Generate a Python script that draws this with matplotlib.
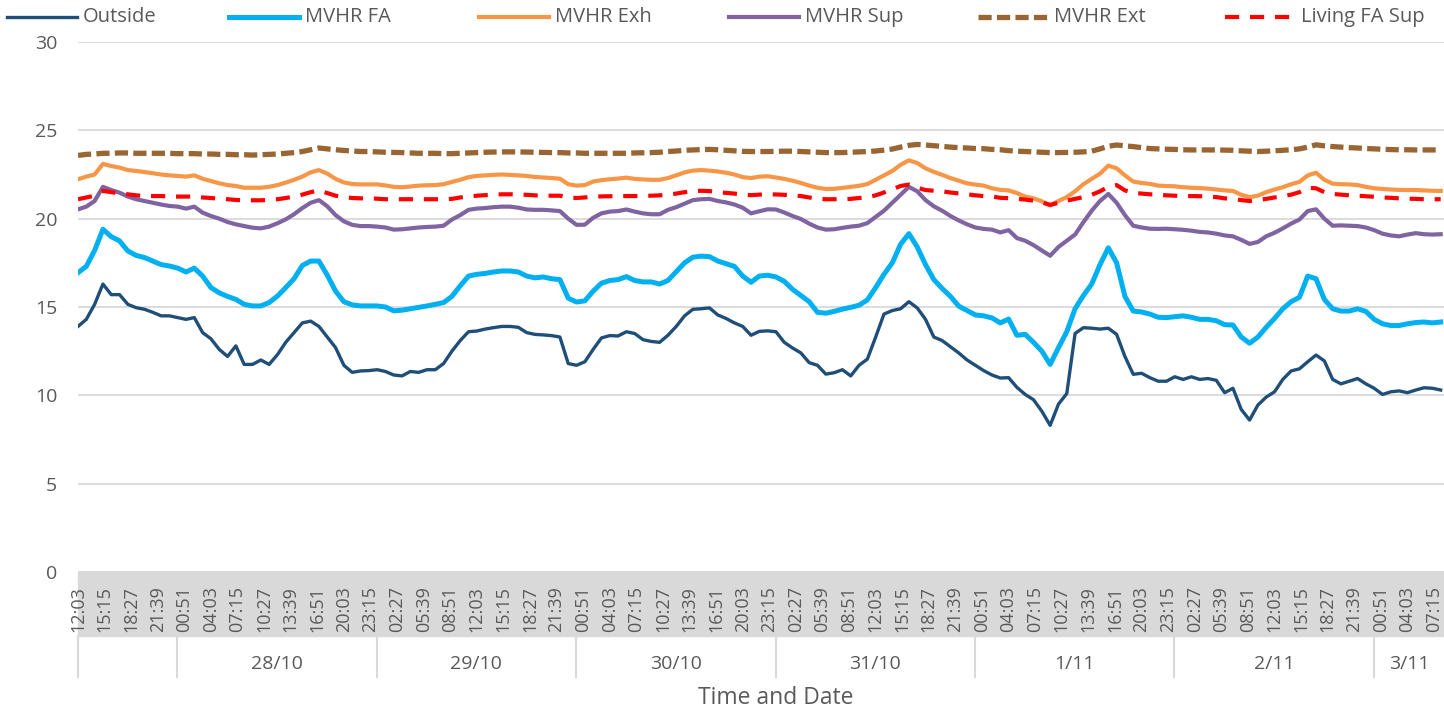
import numpy as np
import matplotlib.pyplot as plt
from matplotlib.lines import Line2D
from matplotlib.patches import Rectangle
from datetime import datetime, timedelta

plt.rcParams['font.family'] = ['Open Sans', 'DejaVu Sans']

# hourly readings from 27/10 12:03
start = datetime(2019, 10, 27, 12, 3)

outside = [13.9, 14.3, 15.15, 16.3, 15.7, 15.7, 15.15, 14.96, 14.87, 14.7, 14.5, 14.5, 14.4, 14.3, 14.4,
           13.55, 13.2, 12.6, 12.2, 12.8, 11.75, 11.75, 12.0, 11.75, 12.3, 13.0, 13.55, 14.1, 14.2,
           13.9, 13.3, 12.7, 11.7, 11.3, 11.38, 11.4, 11.45, 11.35, 11.15, 11.1, 11.35, 11.3, 11.45,
           11.45, 11.8, 12.5, 13.1, 13.6, 13.64, 13.75, 13.83, 13.9, 13.9, 13.85, 13.55, 13.45,
           13.42, 13.38, 13.3, 11.8, 11.7, 11.9, 12.6, 13.25, 13.38, 13.36, 13.6, 13.5, 13.15, 13.05,
           13.0, 13.4, 13.9, 14.5, 14.87, 14.9, 14.95, 14.55, 14.35, 14.1, 13.9, 13.4, 13.62, 13.65,
           13.6, 13.0, 12.68, 12.4, 11.85, 11.7, 11.2, 11.28, 11.45, 11.1, 11.7, 12.05, 13.3, 14.6,
           14.8, 14.9, 15.3, 14.95, 14.3, 13.3, 13.1, 12.75, 12.4, 12.0, 11.7, 11.4, 11.15, 10.98,
           11.0, 10.45, 10.05, 9.75, 9.1, 8.3, 9.5, 10.1, 13.5, 13.83, 13.8, 13.75, 13.8, 13.45,
           12.2, 11.19, 11.25, 11.0, 10.8, 10.8, 11.05, 10.9, 11.05, 10.9, 10.95, 10.85, 10.15, 10.4,
           9.2, 8.6, 9.45, 9.9, 10.2, 10.9, 11.38, 11.5, 11.9, 12.28, 11.95, 10.9, 10.65, 10.8,
           10.95, 10.65, 10.4, 10.05, 10.2, 10.25, 10.15, 10.3, 10.43, 10.4, 10.3]

mvhr_fa = [16.94, 17.3, 18.2, 19.4, 18.98, 18.74, 18.17, 17.92, 17.8, 17.6, 17.4, 17.32, 17.2, 16.98, 17.2,
           16.75, 16.1, 15.8, 15.6, 15.43, 15.15, 15.06, 15.06, 15.25, 15.62, 16.1, 16.6, 17.35, 17.6,
           17.6, 16.8, 15.9, 15.3, 15.12, 15.06, 15.06, 15.06, 15.0, 14.78, 14.82, 14.9, 14.98, 15.06,
           15.15, 15.25, 15.6, 16.2, 16.75, 16.85, 16.9, 16.98, 17.04, 17.04, 16.98, 16.75, 16.65,
           16.7, 16.6, 16.55, 15.5, 15.28, 15.35, 15.9, 16.35, 16.5, 16.55, 16.72, 16.5, 16.42, 16.42,
           16.3, 16.5, 17.0, 17.5, 17.82, 17.88, 17.85, 17.6, 17.45, 17.3, 16.75, 16.4, 16.75, 16.8,
           16.7, 16.45, 16.0, 15.65, 15.3, 14.7, 14.65, 14.75, 14.88, 14.98, 15.1, 15.4, 16.1, 16.85,
           17.5, 18.55, 19.15, 18.4, 17.4, 16.55, 16.05, 15.6, 15.05, 14.8, 14.55, 14.5, 14.38, 14.1,
           14.32, 13.4, 13.45, 13.0, 12.5, 11.75, 12.7, 13.6, 14.9, 15.65, 16.3, 17.4, 18.35, 17.5,
           15.6, 14.77, 14.72, 14.6, 14.42, 14.4, 14.45, 14.5, 14.42, 14.3, 14.3, 14.22, 14.0, 13.98,
           13.3, 12.95, 13.3, 13.85, 14.35, 14.9, 15.3, 15.55, 16.75, 16.6, 15.43, 14.9, 14.77, 14.77,
           14.9, 14.75, 14.3, 14.05, 13.95, 13.95, 14.05, 14.12, 14.15, 14.1, 14.15]

mvhr_exh = [22.23, 22.38, 22.5, 23.1, 22.98, 22.89, 22.75, 22.7, 22.64, 22.57, 22.5, 22.45, 22.42, 22.38, 22.45,
            22.26, 22.13, 22.0, 21.9, 21.85, 21.75, 21.75, 21.75, 21.8, 21.9, 22.04, 22.2, 22.38, 22.62,
            22.75, 22.55, 22.25, 22.05, 21.96, 21.94, 21.94, 21.94, 21.88, 21.8, 21.78, 21.82, 21.87, 21.89,
            21.9, 21.95, 22.08, 22.2, 22.35, 22.42, 22.45, 22.48, 22.5, 22.48, 22.45, 22.42, 22.36,
            22.33, 22.3, 22.26, 21.95, 21.87, 21.9, 22.1, 22.18, 22.23, 22.27, 22.32, 22.25, 22.22, 22.2,
            22.2, 22.3, 22.45, 22.62, 22.72, 22.75, 22.72, 22.67, 22.6, 22.5, 22.35, 22.3, 22.38, 22.4,
            22.33, 22.25, 22.15, 22.02, 21.87, 21.75, 21.68, 21.69, 21.74, 21.8, 21.86, 21.96, 22.2, 22.45,
            22.7, 23.05, 23.3, 23.15, 22.85, 22.65, 22.48, 22.3, 22.15, 22.0, 21.93, 21.87, 21.72, 21.63,
            21.6, 21.45, 21.25, 21.15, 20.98, 20.75, 21.0, 21.22, 21.55, 21.95, 22.25, 22.55, 23.0, 22.85,
            22.45, 22.1, 22.02, 21.97, 21.87, 21.85, 21.83, 21.78, 21.75, 21.73, 21.7, 21.65, 21.6, 21.57,
            21.35, 21.22, 21.3, 21.5, 21.65, 21.78, 21.95, 22.08, 22.45, 22.6, 22.2, 21.98, 21.95, 21.94,
            21.9, 21.8, 21.72, 21.68, 21.65, 21.63, 21.62, 21.62, 21.6, 21.58, 21.57]

mvhr_sup = [20.53, 20.68, 21.0, 21.8, 21.62, 21.47, 21.25, 21.1, 21.0, 20.9, 20.8, 20.72, 20.68, 20.57, 20.68,
            20.34, 20.15, 20.0, 19.81, 19.68, 19.58, 19.49, 19.45, 19.55, 19.74, 19.96, 20.25, 20.6, 20.9,
            21.05, 20.7, 20.2, 19.85, 19.65, 19.58, 19.58, 19.55, 19.5, 19.38, 19.4, 19.45, 19.5, 19.53,
            19.55, 19.6, 19.95, 20.2, 20.5, 20.57, 20.6, 20.65, 20.68, 20.68, 20.62, 20.52, 20.5,
            20.5, 20.47, 20.43, 20.0, 19.65, 19.66, 20.05, 20.3, 20.4, 20.43, 20.52, 20.4, 20.3, 20.25,
            20.25, 20.5, 20.65, 20.85, 21.05, 21.1, 21.12, 21.0, 20.92, 20.8, 20.62, 20.3, 20.42, 20.53,
            20.52, 20.35, 20.15, 19.98, 19.72, 19.5, 19.38, 19.4, 19.48, 19.55, 19.6, 19.75, 20.1, 20.45,
            20.9, 21.35, 21.8, 21.55, 21.05, 20.7, 20.45, 20.15, 19.9, 19.68, 19.5, 19.42, 19.38, 19.22,
            19.35, 18.9, 18.75, 18.5, 18.2, 17.9, 18.4, 18.75, 19.1, 19.8, 20.45, 21.0, 21.4, 20.9,
            20.2, 19.6, 19.5, 19.43, 19.42, 19.43, 19.4, 19.37, 19.32, 19.25, 19.22, 19.15, 19.05, 19.0,
            18.8, 18.57, 18.68, 19.0, 19.2, 19.45, 19.72, 19.95, 20.43, 20.53, 20.0, 19.6, 19.62, 19.6,
            19.58, 19.5, 19.35, 19.15, 19.05, 19.0, 19.1, 19.18, 19.12, 19.1, 19.12]

mvhr_ext = [23.58, 23.64, 23.66, 23.7, 23.7, 23.72, 23.72, 23.7, 23.7, 23.7, 23.7, 23.7, 23.68, 23.68, 23.68,
            23.66, 23.66, 23.64, 23.64, 23.62, 23.62, 23.6, 23.62, 23.64, 23.66, 23.7, 23.74, 23.8, 23.9,
            24.0, 23.95, 23.9, 23.86, 23.83, 23.8, 23.8, 23.78, 23.76, 23.75, 23.74, 23.72, 23.7, 23.7,
            23.7, 23.68, 23.68, 23.7, 23.72, 23.74, 23.76, 23.77, 23.78, 23.78, 23.78, 23.77, 23.76,
            23.75, 23.74, 23.74, 23.72, 23.72, 23.7, 23.7, 23.7, 23.7, 23.7, 23.7, 23.72, 23.73, 23.74,
            23.76, 23.8, 23.83, 23.87, 23.89, 23.91, 23.92, 23.9, 23.87, 23.84, 23.81, 23.8, 23.8, 23.8,
            23.81, 23.82, 23.82, 23.8, 23.78, 23.76, 23.74, 23.74, 23.74, 23.76, 23.78, 23.8, 23.83, 23.88,
            23.94, 24.05, 24.15, 24.2, 24.17, 24.13, 24.09, 24.05, 24.02, 24.0, 23.97, 23.96, 23.92, 23.9,
            23.85, 23.82, 23.8, 23.78, 23.76, 23.74, 23.74, 23.75, 23.76, 23.78, 23.82, 23.95, 24.1, 24.17,
            24.12, 24.08, 24.02, 23.97, 23.95, 23.93, 23.92, 23.9, 23.89, 23.89, 23.89, 23.89, 23.88, 23.87,
            23.84, 23.82, 23.8, 23.82, 23.84, 23.87, 23.9, 23.95, 24.05, 24.18, 24.12, 24.08, 24.05, 24.02,
            24.0, 23.97, 23.95, 23.93, 23.91, 23.9, 23.9, 23.89, 23.89, 23.89, 23.89]

living_fa_sup = [21.1, 21.2, 21.3, 21.57, 21.5, 21.43, 21.38, 21.32, 21.28, 21.28, 21.28, 21.26, 21.25, 21.25, 21.25,
                 21.2, 21.17, 21.13, 21.1, 21.06, 21.04, 21.04, 21.04, 21.06, 21.1, 21.17, 21.25, 21.36, 21.5,
                 21.6, 21.45, 21.3, 21.22, 21.17, 21.15, 21.15, 21.13, 21.1, 21.1, 21.1, 21.1, 21.1, 21.1,
                 21.1, 21.1, 21.12, 21.2, 21.25, 21.3, 21.33, 21.36, 21.38, 21.38, 21.37, 21.35, 21.32,
                 21.3, 21.3, 21.3, 21.2, 21.17, 21.2, 21.25, 21.26, 21.27, 21.28, 21.28, 21.28, 21.3, 21.3,
                 21.32, 21.36, 21.42, 21.5, 21.55, 21.58, 21.56, 21.5, 21.46, 21.42, 21.36, 21.33, 21.36, 21.38,
                 21.37, 21.35, 21.32, 21.28, 21.2, 21.14, 21.1, 21.1, 21.1, 21.12, 21.17, 21.22, 21.32, 21.48,
                 21.66, 21.85, 21.93, 21.75, 21.62, 21.58, 21.55, 21.48, 21.43, 21.38, 21.32, 21.28, 21.25, 21.18,
                 21.16, 21.12, 21.08, 21.02, 20.92, 20.78, 20.9, 21.02, 21.12, 21.22, 21.35, 21.55, 21.8, 21.9,
                 21.6, 21.46, 21.42, 21.38, 21.36, 21.32, 21.3, 21.28, 21.28, 21.27, 21.25, 21.22, 21.15, 21.12,
                 21.05, 21.0, 21.05, 21.12, 21.2, 21.28, 21.36, 21.5, 21.75, 21.72, 21.5, 21.4, 21.36, 21.32,
                 21.3, 21.27, 21.24, 21.2, 21.18, 21.15, 21.13, 21.12, 21.1, 21.1, 21.1]

series_names = ["Outside", "MVHR FA", "MVHR Exh", "MVHR Sup", "MVHR Ext", "Living FA Sup"]
colors = ["#1f4e79", "#00b0f0", "#f79646", "#8064a2", "#996633", "#ff0000"]
widths = [2.4, 3.6, 3.0, 3.0, 3.8, 3.0]
dashes = [None, None, None, None, (2.5, 1.0), (3.4, 2.6)]

hours = np.arange(len(outside))
end_hours = 164.4
grey = "#d9d9d9"
txt = "#595959"

fig = plt.figure(figsize=(14.44, 7.14), dpi=100)
ax = fig.add_axes([78 / 1444, 1 - 572 / 714, 1366 / 1444, 530 / 714])

data = [outside, mvhr_fa, mvhr_exh, mvhr_sup, mvhr_ext, living_fa_sup]
for vals, name, c, w, d in zip(data, series_names, colors, widths, dashes):
    line, = ax.plot(hours, vals, color=c, lw=w, label=name, solid_joinstyle="round")
    if d is not None:
        line.set_dashes(d)

ax.set_xlim(0, end_hours)
ax.set_ylim(0, 30)
ax.set_yticks(range(0, 31, 5))
ax.grid(axis="y", color=grey, lw=1.3)
ax.set_axisbelow(True)
for s in ax.spines.values():
    s.set_visible(False)
ax.tick_params(axis="y", length=0, pad=15, labelsize=14, labelcolor=txt)

# time labels every 192 minutes
tick_h = np.arange(0, 164, 3.2)
tick_lab = [(start + timedelta(hours=float(h))).strftime("%H:%M") for h in tick_h]
ax.set_xticks(tick_h)
ax.set_xticklabels(tick_lab, rotation=90)
ax.tick_params(axis="x", length=0, pad=10, labelsize=13, labelcolor=txt)

band = 64 / 530
ax.add_patch(Rectangle((0, -band), 1, band, transform=ax.transAxes, color=grey,
                       clip_on=False, zorder=0))

# date row
trans = ax.get_xaxis_transform()
midnights = [11 + 57 / 60 + 24 * i for i in range(7)]
sep_lo = -(677 - 572) / 530
ax.plot([0, 0], [-band, sep_lo], transform=trans, color=grey, lw=1.5, clip_on=False)
for m in midnights:
    ax.plot([m, m], [-band, sep_lo], transform=trans, color=grey, lw=1.5, clip_on=False)
edges = midnights + [end_hours]
for i in range(len(midnights)):
    day = start + timedelta(hours=midnights[i] + 1)
    ax.text((edges[i] + edges[i + 1]) / 2, -(664 - 572) / 530, f"{day.day}/{day.month}",
            transform=trans, ha="center", va="center", fontsize=14, color=txt)

fig.text(776 / 1444, 1 - 698 / 714, "Time and Date", ha="center", va="center",
         fontsize=16.5, color=txt)

# legend across the top
leg_x = [7, 229, 479, 729, 978, 1225]
ly = 1 - 17 / 714
for x0, name, c, w, d in zip(leg_x, series_names, colors, widths, dashes):
    h = Line2D([x0 / 1444, (x0 + 70) / 1444], [ly, ly], transform=fig.transFigure,
               color=c, lw=w)
    if d is not None:
        h.set_dashes(d)
    fig.add_artist(h)
    fig.text((x0 + 76) / 1444, ly, name, ha="left", va="center", fontsize=14.5, color=txt)

fig.savefig("out.png", dpi=100)
